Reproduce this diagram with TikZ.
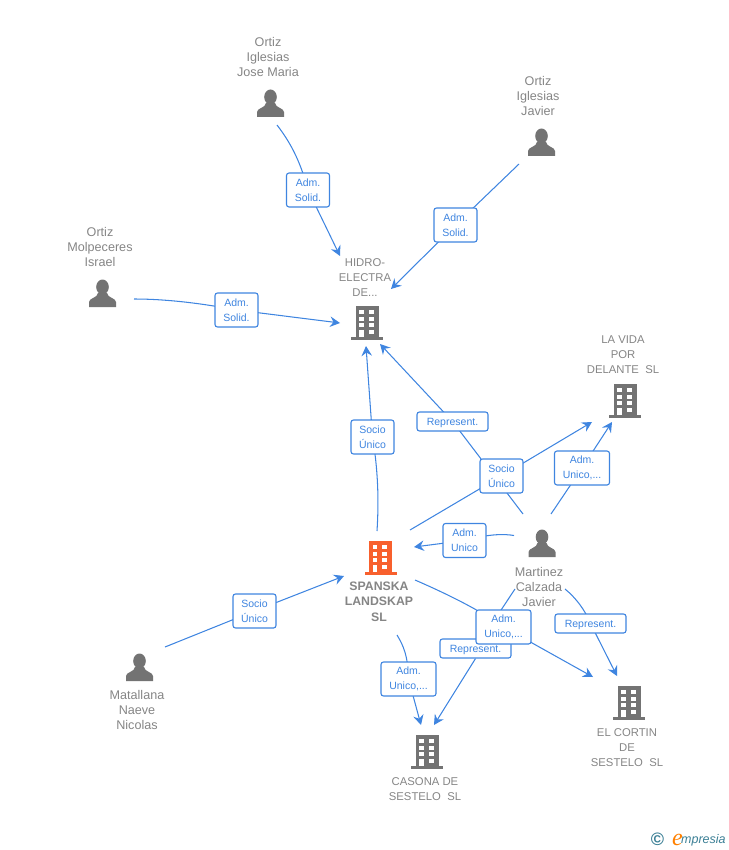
\documentclass[tikz,border=0pt]{standalone}
\usepackage{fontspec}
\setmainfont{Liberation Sans}
\newfontfamily\logoserif{Liberation Serif}
\usetikzlibrary{arrows.meta,backgrounds}
\definecolor{lnk}{HTML}{3F85E0}
\definecolor{icon}{HTML}{737373}
\definecolor{txt}{HTML}{858585}
\definecolor{hot}{HTML}{F8602D}
\definecolor{teal}{HTML}{3B7F95}
\tikzset{
  link/.style={draw=lnk,line width=1.05pt},
  tip/.style={link,-{Stealth[length=10pt,width=10.5pt,inset=3.5pt]}},
  lab/.style={draw=lnk,fill=white,line width=1.1pt,rounded corners=2.5pt,inner sep=0pt,text=lnk,align=center,font=\fontsize{10.5}{15}\selectfont,minimum height=34pt},
  lab1/.style={lab,minimum height=19pt,minimum width=71pt,text height=7.5pt,text depth=0pt},
  lab2/.style={lab,minimum width=43pt},
  lab3/.style={lab,minimum width=55pt},
  who/.style={text=txt,align=center,font=\fontsize{12.6}{15}\selectfont,inner sep=0pt},
  co/.style={text=txt,align=center,font=\fontsize{11.3}{15}\selectfont,inner sep=0pt},
  hero/.style={text=txt,align=center,font=\fontsize{12.3}{15.5}\selectfont\bfseries,inner sep=0pt}
}
\newcommand{\bldg}[3]{%
  \begin{scope}[shift={(#1,#2)}]
    \fill[#3] (-11.5,-17) rectangle (11.5,15);
    \fill[#3] (-16,14) rectangle (16,17);
    \foreach \yy in {-13,-6.5,0,6.5}{
      \fill[white] (-8,\yy) rectangle ++(4.7,4.4);
      \fill[white] (1.8,\yy) rectangle ++(4.7,4.4);
    }
    \fill[white] (-8,6.5) rectangle (-3.3,14);
  \end{scope}}
\newcommand{\pers}[2]{%
  \begin{scope}[shift={(#1,#2)}]
    \fill[icon] (0,-7) ellipse (6.3 and 7.5);
    \fill[icon] (-13.5,13) -- (-13.5,8) .. controls (-13.5,4) and (-5,4) .. (-4.5,-1)
      -- (4.5,-1) .. controls (5,4) and (13.5,4) .. (13.5,8) -- (13.5,13) -- cycle;
  \end{scope}}
\begin{document}
\begin{tikzpicture}[x=1pt,y=-1pt]
\useasboundingbox (0,0) rectangle (728,850);
% icons
\pers{270.5}{104}\pers{541.5}{143}\pers{102.5}{294}\pers{542}{544}\pers{139.5}{668}
\bldg{367}{323}{icon}\bldg{625}{401}{icon}\bldg{380.5}{558}{hot}\bldg{427}{752}{icon}\bldg{629}{703}{icon}
% names
\node[who] (jose) at (268,56.5) {Ortiz\\Iglesias\\Jose Maria};
\node[who] (javi) at (538,95.5) {Ortiz\\Iglesias\\Javier};
\node[who] (isra) at (100,246.5) {Ortiz\\Molpeceres\\Israel};
\node[who] (mart) at (539,586.5) {Martinez\\Calzada\\Javier};
\node[who] (mata) at (137,710) {Matallana\\Naeve\\Nicolas};
\node[co] (hidro) at (365,278) {HIDRO-\\ELECTRA\\DE...};
\node[co] (vida) at (623,354.5) {LA VIDA\\POR\\DELANTE\ \ SL};
\node[hero] (span) at (379,601.5) {SPANSKA\\LANDSKAP\\SL};
\node[co] (caso) at (425,789) {CASONA DE\\SESTELO\ \ SL};
\node[co] (cort) at (627,747.5) {EL CORTIN\\DE\\SESTELO\ \ SL};
% connector ends
\coordinate (a1) at (277,125);   \coordinate (b1) at (340,256);
\coordinate (a2) at (519,164);   \coordinate (b2) at (391,289);
\coordinate (a3) at (134,299);   \coordinate (b3) at (340,323);
\coordinate (a4) at (377,531);   \coordinate (b4) at (366,346);
\coordinate (a5) at (523,514);   \coordinate (b5) at (380,344);
\coordinate (a6) at (410,530);   \coordinate (b6) at (592,422);
\coordinate (a7) at (551,514);   \coordinate (b7) at (612,422);
\coordinate (a8) at (514,535.5); \coordinate (b8) at (414,547);
\coordinate (a9) at (415,580);   \coordinate (b9) at (593,677);
\coordinate (a10) at (515,589);  \coordinate (b10) at (434,725);
\coordinate (a11) at (565,589);  \coordinate (b11) at (617,676);
\coordinate (a12) at (397,635);  \coordinate (b12) at (421,725);
\coordinate (a13) at (165,647);  \coordinate (b13) at (344,576);
% connector labels
\node[lab2] (l1) at (308,190) {Adm.\\Solid.};
\node[lab2] (l2) at (455.5,225) {Adm.\\Solid.};
\node[lab2] (l3) at (236.5,310) {Adm.\\Solid.};
\node[lab2] (l4) at (372.5,437) {Socio\\Único};
\node[lab1] (l5) at (452.5,421.5) {Represent.};
\node[lab2] (l6) at (501.5,476) {Socio\\Único};
\node[lab3] (l7) at (582,468) {Adm.\\Unico,...};
\node[lab2] (l8) at (464.5,540.5) {Adm.\\Unico};
\node[lab1] (l10) at (475.5,648.5) {Represent.};
\node[lab3] (l9) at (503.5,627) {Adm.\\Unico,...};
\node[lab1] (l11) at (590.5,623.5) {Represent.};
\node[lab3] (l12) at (408.5,679) {Adm.\\Unico,...};
\node[lab2] (l13) at (254.5,611) {Socio\\Único};
% connectors
\begin{scope}[on background layer]
\draw[link] (a1) .. controls (290,142) and (300,160) .. (l1.center);
\draw[tip] (l1.center) -- (b1);
\draw[link] (a2) -- (l2.center);
\draw[tip] (l2.center) -- (b2);
\draw[link] (a3) .. controls (165,299) and (200,303) .. (l3.center);
\draw[tip] (l3.center) -- (b3);
\draw[link] (a4) .. controls (379,500) and (378,470) .. (l4.center);
\draw[tip] (l4.center) -- (b4);
\draw[link] (a5) -- (l5.center);
\draw[tip] (l5.center) -- (b5);
\draw[link] (a6) -- (l6.center);
\draw[tip] (l6.center) -- (b6);
\draw[link] (a7) -- (l7.center);
\draw[tip] (l7.center) -- (b7);
\draw[link] (a8) .. controls (505,534) and (490,533.5) .. (l8.center);
\draw[tip] (l8.center) -- (b8);
\draw[link] (a9) .. controls (445,593) and (480,610) .. (l9.center);
\draw[tip] (l9.center) -- (b9);
\draw[link] (a10) -- (l10.center);
\draw[tip] (l10.south) -- (b10);
\draw[link] (a11) .. controls (576,598) and (585,610) .. (l11.center);
\draw[tip] (l11.center) -- (b11);
\draw[link] (a12) .. controls (403,645) and (408,655) .. (l12.center);
\draw[tip] (l12.center) -- (b12);
\draw[link] (a13) -- (l13.center);
\draw[tip] (l13.center) -- (b13);
\end{scope}
% logo
\node[inner sep=0pt,text=teal,font=\fontsize{18}{18}\selectfont\bfseries] (copy) at (657.5,839) {©};
\node[inner sep=0pt,anchor=base west,text=teal,font=\fontsize{12.5}{12.5}\selectfont\itshape] (logo) at (681,843.5) {mpresia};
\node[inner sep=0pt,anchor=base east,text=orange,font=\fontsize{24}{24}\logoserif\itshape] (loge) at (683,845) {e};
\end{tikzpicture}
\end{document}
